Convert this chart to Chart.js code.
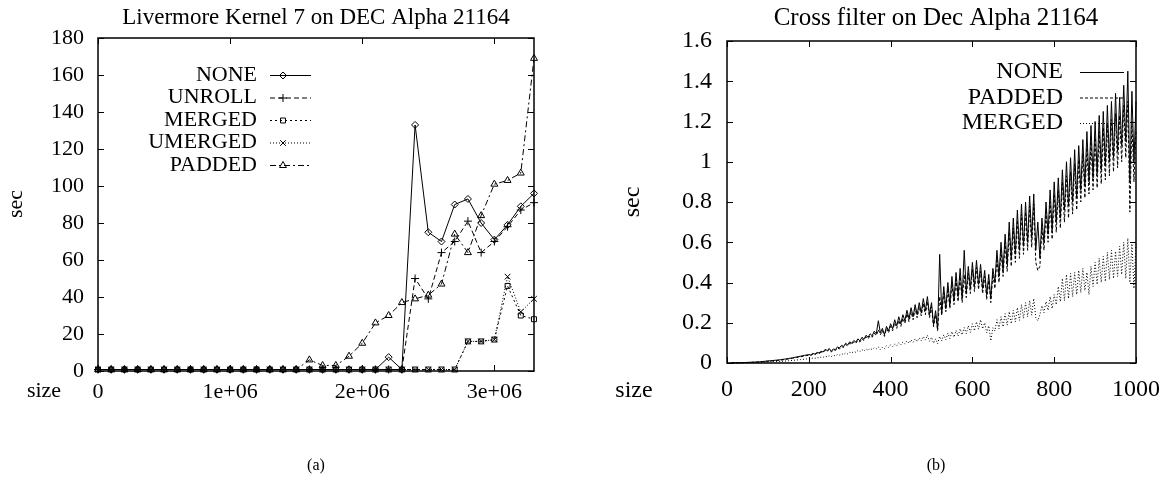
<!DOCTYPE html>
<html>
<head>
<meta charset="utf-8">
<script src="https://cdn.jsdelivr.net/npm/chart.js@4.4.0/dist/chart.umd.min.js"></script>
<style>
  body { margin: 0; background: #fff; }
  #wrap { position: relative; width: 1172px; height: 489px; }
  canvas { position: absolute; top: 0; }
</style>
</head>
<body>
<div id="wrap">
  <canvas id="chart-a" width="586" height="489" style="left:0"></canvas>
  <canvas id="chart-b" width="586" height="489" style="left:586px"></canvas>
</div>
<script>
// ---- (a) Livermore Kernel 7: problem size vs seconds, one point per 1e5 ----
const sizesA = [0, 100000, 200000, 300000, 400000, 500000, 600000, 700000, 800000, 900000,
  1000000, 1100000, 1200000, 1300000, 1400000, 1500000, 1600000, 1700000, 1800000, 1900000,
  2000000, 2100000, 2200000, 2300000, 2400000, 2500000, 2600000, 2700000, 2800000, 2900000,
  3000000, 3100000, 3200000, 3300000];
const noneA = [0.8, 0.8, 0.8, 0.8, 0.8, 0.8, 0.8, 0.8, 0.8, 0.8, 0.8, 0.8, 0.8, 0.8, 0.8, 0.8,
  0.8, 0.8, 0.8, 0.8, 0.8, 0.8, 7.5, 0.8, 133, 75, 70, 90, 93, 80, 71, 79, 89, 96];
const unrollA = [0.8, 0.8, 0.8, 0.8, 0.8, 0.8, 0.8, 0.8, 0.8, 0.8, 0.8, 0.8, 0.8, 0.8, 0.8, 0.8,
  0.8, 0.8, 0.8, 0.8, 0.8, 0.8, 0.8, 0.8, 50, 39, 64, 70, 81, 64, 70, 78, 87, 91];
const mergedA = [0.8, 0.8, 0.8, 0.8, 0.8, 0.8, 0.8, 0.8, 0.8, 0.8, 0.8, 0.8, 0.8, 0.8, 0.8, 0.8,
  0.8, 0.8, 0.8, 0.8, 0.8, 0.8, 0.8, 0.8, 0.8, 0.8, 0.8, 0.8, 16, 16, 17, 46, 30, 28];
const umergedA = [0.8, 0.8, 0.8, 0.8, 0.8, 0.8, 0.8, 0.8, 0.8, 0.8, 0.8, 0.8, 0.8, 0.8, 0.8, 0.8,
  0.8, 0.8, 0.8, 0.8, 0.8, 0.8, 0.8, 0.8, 0.8, 0.8, 0.8, 0.8, 16, 16, 17, 51, 32, 39];
const paddedA = [0.8, 0.8, 0.8, 0.8, 0.8, 0.8, 0.8, 0.8, 0.8, 0.8, 0.8, 0.8, 0.8, 0.8, 0.8, 0.8,
  6, 3, 3, 8, 15, 26, 30, 37, 39, 41, 47, 74, 64, 84, 101, 103, 107, 169];
const xTicksA = [0, 1000000, 2000000, 3000000];
const xTickLabelsA = ["0", "1e+06", "2e+06", "3e+06"];
const yTicksA = [0, 20, 40, 60, 80, 100, 120, 140, 160, 180];

// ---- (b) Cross filter: matrix size vs seconds (every 10 up to 200, then every 5) ----
const sizesB = [10, 20, 30, 40, 50, 60, 70, 80, 90, 100,
  110, 120, 130, 140, 150, 160, 170, 180, 190, 200,
  205, 210, 215, 220, 225, 230, 235, 240, 245, 250,
  255, 260, 265, 270, 275, 280, 285, 290, 295, 300,
  305, 310, 315, 320, 325, 330, 335, 340, 345, 350,
  355, 360, 365, 370, 375, 380, 385, 390, 395, 400,
  405, 410, 415, 420, 425, 430, 435, 440, 445, 450,
  455, 460, 465, 470, 475, 480, 485, 490, 495, 500,
  505, 510, 515, 520, 525, 530, 535, 540, 545, 550,
  555, 560, 565, 570, 575, 580, 585, 590, 595, 600,
  605, 610, 615, 620, 625, 630, 635, 640, 645, 650,
  655, 660, 665, 670, 675, 680, 685, 690, 695, 700,
  705, 710, 715, 720, 725, 730, 735, 740, 745, 750,
  755, 760, 765, 770, 775, 780, 785, 790, 795, 800,
  805, 810, 815, 820, 825, 830, 835, 840, 845, 850,
  855, 860, 865, 870, 875, 880, 885, 890, 895, 900,
  905, 910, 915, 920, 925, 930, 935, 940, 945, 950,
  955, 960, 965, 970, 975, 980, 985, 990, 995, 1000];
const noneB = [0.000, 0.001, 0.001, 0.002, 0.003, 0.004, 0.005, 0.006, 0.008, 0.010,
  0.012, 0.014, 0.016, 0.019, 0.022, 0.026, 0.030, 0.034, 0.038, 0.042,
  0.040, 0.048, 0.044, 0.052, 0.050, 0.058, 0.055, 0.068, 0.062, 0.072,
  0.058, 0.070, 0.066, 0.080, 0.075, 0.088, 0.082, 0.098, 0.090, 0.105,
  0.098, 0.112, 0.104, 0.120, 0.110, 0.128, 0.118, 0.138, 0.128, 0.145,
  0.135, 0.158, 0.145, 0.210, 0.150, 0.172, 0.140, 0.182, 0.160, 0.195,
  0.170, 0.215, 0.185, 0.230, 0.195, 0.240, 0.210, 0.262, 0.220, 0.275,
  0.230, 0.290, 0.240, 0.300, 0.250, 0.320, 0.260, 0.330, 0.240, 0.300,
  0.190, 0.260, 0.170, 0.540, 0.250, 0.380, 0.270, 0.400, 0.290, 0.430,
  0.310, 0.450, 0.330, 0.470, 0.320, 0.560, 0.350, 0.480, 0.370, 0.500,
  0.380, 0.510, 0.390, 0.490, 0.370, 0.460, 0.340, 0.440, 0.320, 0.470,
  0.400, 0.560, 0.430, 0.600, 0.460, 0.640, 0.490, 0.700, 0.520, 0.720,
  0.540, 0.760, 0.560, 0.790, 0.580, 0.800, 0.600, 0.830, 0.620, 0.840,
  0.560, 0.700, 0.520, 0.720, 0.600, 0.800, 0.640, 0.860, 0.660, 0.900,
  0.700, 0.920, 0.720, 0.960, 0.760, 1.000, 0.780, 1.020, 0.800, 1.060,
  0.820, 1.080, 0.860, 1.110, 0.880, 1.150, 0.900, 1.180, 0.920, 1.200,
  0.940, 1.230, 0.960, 1.250, 0.980, 1.280, 1.000, 1.300, 1.020, 1.340,
  1.050, 1.320, 1.080, 1.380, 1.100, 1.450, 0.900, 1.350, 1.000, 1.300];
const paddedB = [0.000, 0.001, 0.001, 0.002, 0.002, 0.003, 0.004, 0.005, 0.007, 0.009,
  0.010, 0.012, 0.014, 0.017, 0.020, 0.023, 0.027, 0.031, 0.035, 0.039,
  0.037, 0.044, 0.041, 0.049, 0.046, 0.054, 0.052, 0.063, 0.058, 0.067,
  0.054, 0.066, 0.062, 0.075, 0.070, 0.082, 0.077, 0.092, 0.085, 0.098,
  0.092, 0.105, 0.098, 0.113, 0.104, 0.120, 0.112, 0.130, 0.120, 0.136,
  0.128, 0.148, 0.136, 0.165, 0.140, 0.162, 0.132, 0.172, 0.150, 0.182,
  0.160, 0.200, 0.172, 0.212, 0.182, 0.222, 0.196, 0.245, 0.205, 0.255,
  0.215, 0.270, 0.225, 0.280, 0.235, 0.295, 0.240, 0.305, 0.225, 0.280,
  0.180, 0.240, 0.160, 0.330, 0.235, 0.350, 0.255, 0.370, 0.270, 0.395,
  0.290, 0.415, 0.305, 0.430, 0.300, 0.440, 0.325, 0.445, 0.345, 0.465,
  0.355, 0.475, 0.365, 0.455, 0.345, 0.430, 0.315, 0.410, 0.300, 0.440,
  0.370, 0.520, 0.400, 0.560, 0.430, 0.600, 0.455, 0.650, 0.480, 0.670,
  0.500, 0.710, 0.520, 0.740, 0.540, 0.750, 0.560, 0.780, 0.575, 0.790,
  0.500, 0.460, 0.480, 0.670, 0.560, 0.750, 0.600, 0.800, 0.615, 0.840,
  0.650, 0.860, 0.670, 0.900, 0.700, 0.930, 0.720, 0.950, 0.740, 0.990,
  0.760, 1.010, 0.800, 1.040, 0.820, 1.070, 0.840, 1.100, 0.860, 1.120,
  0.870, 1.150, 0.890, 1.170, 0.910, 1.190, 0.930, 1.210, 0.950, 1.240,
  0.970, 1.230, 1.000, 1.280, 1.020, 1.300, 0.750, 1.200, 0.900, 1.150];
const mergedB = [0.000, 0.000, 0.001, 0.001, 0.001, 0.002, 0.002, 0.003, 0.004, 0.005,
  0.006, 0.007, 0.008, 0.009, 0.011, 0.013, 0.015, 0.017, 0.019, 0.022,
  0.021, 0.025, 0.023, 0.027, 0.025, 0.030, 0.028, 0.034, 0.030, 0.036,
  0.032, 0.038, 0.035, 0.042, 0.039, 0.046, 0.042, 0.050, 0.045, 0.053,
  0.050, 0.057, 0.053, 0.062, 0.056, 0.066, 0.060, 0.070, 0.063, 0.073,
  0.066, 0.076, 0.070, 0.080, 0.066, 0.078, 0.072, 0.086, 0.078, 0.090,
  0.082, 0.094, 0.086, 0.100, 0.090, 0.104, 0.094, 0.110, 0.098, 0.115,
  0.102, 0.120, 0.106, 0.125, 0.110, 0.132, 0.114, 0.138, 0.108, 0.128,
  0.098, 0.120, 0.096, 0.132, 0.110, 0.140, 0.116, 0.148, 0.122, 0.156,
  0.128, 0.162, 0.134, 0.170, 0.140, 0.176, 0.146, 0.185, 0.152, 0.195,
  0.160, 0.205, 0.168, 0.215, 0.170, 0.200, 0.150, 0.185, 0.110, 0.175,
  0.160, 0.215, 0.170, 0.230, 0.180, 0.245, 0.188, 0.255, 0.195, 0.262,
  0.205, 0.275, 0.212, 0.290, 0.222, 0.300, 0.230, 0.310, 0.238, 0.320,
  0.225, 0.210, 0.240, 0.285, 0.250, 0.305, 0.262, 0.330, 0.270, 0.340,
  0.290, 0.380, 0.305, 0.420, 0.310, 0.440, 0.320, 0.445, 0.330, 0.450,
  0.340, 0.460, 0.350, 0.470, 0.360, 0.450, 0.340, 0.480, 0.380, 0.500,
  0.390, 0.520, 0.400, 0.530, 0.405, 0.550, 0.415, 0.560, 0.420, 0.555,
  0.430, 0.580, 0.440, 0.600, 0.420, 0.620, 0.400, 0.600, 0.370, 0.590];
const xTicksB = [0, 200, 400, 600, 800, 1000];
const yTicksB = [0, 0.2, 0.4, 0.6, 0.8, 1, 1.2, 1.4, 1.6];

const SERIF = "'Liberation Serif', 'DejaVu Serif', serif";
Chart.defaults.font.family = SERIF;
Chart.defaults.color = "#000";

const pairs = (xs, ys) => xs.map((x, i) => ({ x, y: ys[i] }));

// gnuplot-style frame: full box, ticks pointing inward on all four sides
const framePlugin = {
  id: "frame",
  afterDraw(chart) {
    const { ctx, chartArea: a, scales } = chart;
    const len = 6;
    ctx.save();
    ctx.strokeStyle = "#000";
    ctx.lineWidth = 1.5;
    ctx.strokeRect(a.left, a.top, a.right - a.left, a.bottom - a.top);
    ctx.lineWidth = 1;
    ctx.beginPath();
    scales.x.ticks.forEach((t) => {
      const px = Math.round(scales.x.getPixelForValue(t.value)) + 0.5;
      ctx.moveTo(px, a.bottom); ctx.lineTo(px, a.bottom - len);
      ctx.moveTo(px, a.top); ctx.lineTo(px, a.top + len);
    });
    scales.y.ticks.forEach((t) => {
      const py = Math.round(scales.y.getPixelForValue(t.value)) + 0.5;
      ctx.moveTo(a.left, py); ctx.lineTo(a.left + len, py);
      ctx.moveTo(a.right, py); ctx.lineTo(a.right - len, py);
    });
    ctx.stroke();
    ctx.restore();
  },
};

// title, axis words and the (a)/(b) caption
const textPlugin = {
  id: "texts",
  afterDraw(chart, args, o) {
    const { ctx } = chart;
    ctx.save();
    ctx.fillStyle = "#000";
    ctx.textAlign = "center";
    ctx.textBaseline = "alphabetic";
    ctx.font = `${o.titleSize}px ${SERIF}`;
    ctx.fillText(o.title, o.titleX, o.titleY);
    ctx.font = `${o.size}px ${SERIF}`;
    ctx.textBaseline = "middle";
    ctx.fillText("size", o.sizeX, o.sizeY);
    ctx.save();
    ctx.translate(o.secX, o.secY);
    ctx.rotate(-Math.PI / 2);
    ctx.fillText("sec", 0, 0);
    ctx.restore();
    ctx.font = `16px ${SERIF}`;
    ctx.fillText(o.caption, o.captionX, o.captionY);
    ctx.restore();
  },
};

// key in gnuplot layout: label right-aligned, line sample to its right
const keyPlugin = {
  id: "key",
  afterDraw(chart, args, o) {
    const { ctx } = chart;
    ctx.save();
    ctx.font = `${o.size}px ${SERIF}`;
    ctx.textAlign = "right";
    ctx.textBaseline = "middle";
    chart.data.datasets.forEach((ds, i) => {
      const y = o.top + i * o.step;
      ctx.fillStyle = "#000";
      ctx.fillText(ds.label, o.textRight, y);
      ctx.strokeStyle = "#000";
      ctx.lineWidth = 1;
      ctx.setLineDash(ds.borderDash || []);
      ctx.beginPath();
      ctx.moveTo(o.lineFrom, y + 0.5);
      ctx.lineTo(o.lineTo, y + 0.5);
      ctx.stroke();
      ctx.setLineDash([]);
      if (ds.pointRadius) {
        ctx.fillStyle = "rgba(0,0,0,0)"; // hollow marker, like gnuplot's
        Chart.helpers.drawPoint(ctx, {
          pointStyle: ds.pointStyle, radius: ds.pointRadius, rotation: 0, borderWidth: 1,
        }, o.markerX, y + 0.5);
      }
    });
    ctx.restore();
  },
};

function lineSet(label, xs, ys, dash, style, radius) {
  return {
    label, data: pairs(xs, ys),
    borderColor: "#000", borderWidth: 1, borderDash: dash,
    pointStyle: style || "circle", pointRadius: radius || 0,
    pointBorderColor: "#000", pointBackgroundColor: "rgba(0,0,0,0)", pointBorderWidth: 1,
    tension: 0, clip: false, fill: false,
  };
}

function axes(opt) {
  return {
    x: {
      type: "linear", min: opt.xMin, max: opt.xMax,
      afterBuildTicks: (s) => { s.ticks = opt.xTicks.map((v) => ({ value: v })); },
      afterFit: (s) => { s.height = opt.xHeight; },
      grid: { display: false, drawTicks: false }, border: { display: false },
      ticks: { padding: opt.xPad, font: { size: opt.size }, maxRotation: 0,
        callback: (v, i) => opt.xLabels[i] },
    },
    y: {
      type: "linear", min: opt.yMin, max: opt.yMax,
      afterBuildTicks: (s) => { s.ticks = opt.yTicks.map((v) => ({ value: v })); },
      afterFit: (s) => { s.width = opt.yWidth; },
      grid: { display: false, drawTicks: false }, border: { display: false },
      ticks: { padding: opt.yPad, font: { size: opt.size }, callback: (v) => String(v) },
    },
  };
}

new Chart(document.getElementById("chart-a"), {
  type: "line",
  data: {
    datasets: [
      lineSet("NONE", sizesA, noneA, [], "rectRot", 3.5),
      lineSet("UNROLL", sizesA, unrollA, [5, 3], "cross", 4),
      lineSet("MERGED", sizesA, mergedA, [2, 3], "rect", 3.5),
      lineSet("UMERGED", sizesA, umergedA, [1, 2], "crossRot", 4),
      lineSet("PADDED", sizesA, paddedA, [6, 3, 2, 3], "triangle", 4),
    ],
  },
  options: {
    responsive: false, animation: false, devicePixelRatio: 1,
    layout: { padding: { top: 38, right: 52, left: 0, bottom: 0 } },
    scales: axes({ xMin: 0, xMax: 3300000, xTicks: xTicksA, xLabels: xTickLabelsA,
      yMin: 0, yMax: 180, yTicks: yTicksA, xHeight: 118, yWidth: 98,
      xPad: 8, yPad: 14, size: 22 }),
    plugins: {
      legend: { display: false }, tooltip: { enabled: false },
      texts: { size: 22, titleSize: 23, title: "Livermore Kernel 7 on DEC Alpha 21164",
        titleX: 316, titleY: 24, sizeX: 44, sizeY: 391, secX: 16, secY: 204,
        caption: "(a)", captionX: 316, captionY: 466 },
      key: { size: 22, top: 75, step: 22.5, textRight: 257, lineFrom: 270, lineTo: 311, markerX: 283 },
    },
  },
  plugins: [framePlugin, textPlugin, keyPlugin],
});

new Chart(document.getElementById("chart-b"), {
  type: "line",
  data: {
    datasets: [
      lineSet("NONE", sizesB, noneB, []),
      lineSet("PADDED", sizesB, paddedB, [3, 2]),
      lineSet("MERGED", sizesB, mergedB, [1, 2]),
    ],
  },
  options: {
    responsive: false, animation: false, devicePixelRatio: 1,
    layout: { padding: { top: 41, right: 27, left: 0, bottom: 0 } },
    scales: axes({ xMin: 0, xMax: 1000, xTicks: xTicksB, xLabels: xTicksB.map(String),
      yMin: 0, yMax: 1.6, yTicks: yTicksB, xHeight: 126, yWidth: 141,
      xPad: 12, yPad: 15, size: 24 }),
    plugins: {
      legend: { display: false }, tooltip: { enabled: false },
      texts: { size: 24, titleSize: 25, title: "Cross filter on Dec Alpha 21164",
        titleX: 350, titleY: 25, sizeX: 48, sizeY: 391, secX: 47, secY: 202,
        caption: "(b)", captionX: 350, captionY: 466 },
      key: { size: 24, top: 72, step: 25.5, textRight: 477, lineFrom: 494, lineTo: 538, markerX: 0 },
    },
  },
  plugins: [framePlugin, textPlugin, keyPlugin],
});
</script>
</body>
</html>
